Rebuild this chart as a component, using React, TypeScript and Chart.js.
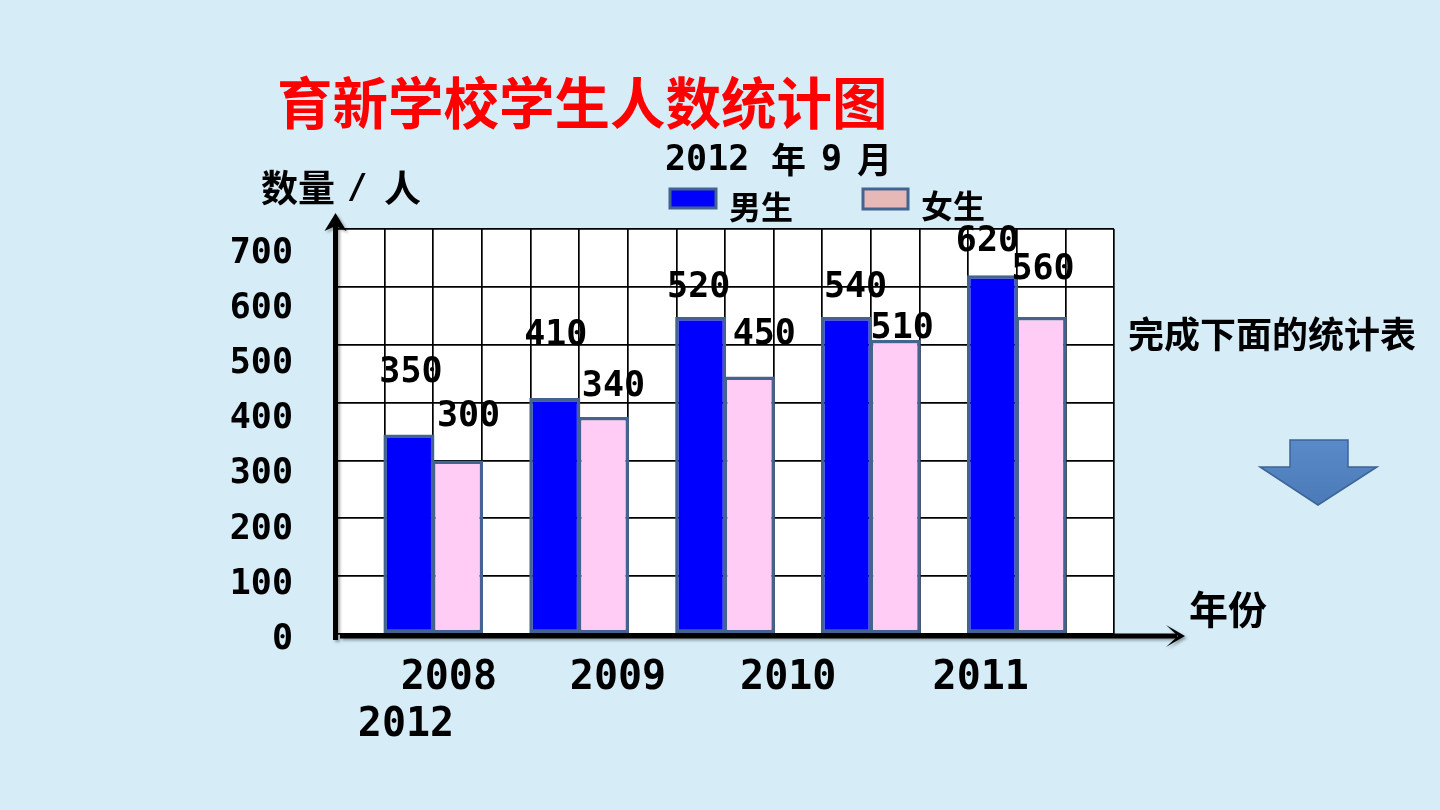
import React, { useEffect, useRef } from "react";
import { Chart, registerables } from "chart.js";

Chart.register(...registerables);

// ---------- data ----------
const years = ["2008", "2009", "2010", "2011", "2012"];
// bar heights as drawn in the picture
const boysDrawn = [345, 408, 548, 548, 620];
const girlsDrawn = [300, 375, 445, 508, 548];
// numbers printed above the bars
const boysLabels = [350, 410, 520, 540, 620];
const girlsLabels = [300, 340, 450, 510, 560];
const yTickValues = [0, 100, 200, 300, 400, 500, 600, 700];
const yearRow1 = years.slice(0, 4);
const yearRow2 = years.slice(4);

// ---------- layout (not data) ----------
const GRID_COLUMNS = 16;
const boyColumn = [1, 4, 7, 10, 13];
const girlColumn = [2, 5, 8, 11, 14];
const yearRow1Pos = [2.32, 5.8, 9.3, 13.26];
const yearRow2Pos = [1.44];
const boysLabelShift = [[2, -61], [1, -62], [-2, -29], [9, -29], [-5, -33]];
const girlsLabelShift = [[11, -44], [10, -30], [15, -42], [7, -11], [2, -47]];

const MONO = "'DejaVu Sans Mono', monospace";
const CJK = "'Noto Sans CJK SC', 'Noto Sans', sans-serif";
const BORDER = "#44648f";

const columnLabels = Array.from({ length: GRID_COLUMNS }, (_, i) => `c${i}`);
const placeInColumns = (cols: number[], vals: number[]) =>
  columnLabels.map((_, i) => {
    const k = cols.indexOf(i);
    return k >= 0 ? vals[k] : null;
  });

const zeroPad = (s: any) => {
  s.paddingTop = 0;
  s.paddingBottom = 0;
  s.paddingLeft = 0;
  s.paddingRight = 0;
};

const decor = {
  id: "decor",
  beforeDraw(chart: any) {
    const { ctx, chartArea: a } = chart;
    ctx.save();
    ctx.fillStyle = "#ffffff";
    ctx.fillRect(a.left, a.top, a.right - a.left, a.bottom - a.top);
    ctx.restore();
  },
  afterDraw(chart: any) {
    const { ctx, chartArea: a } = chart;
    ctx.save();

    // ---- axes with arrows ----
    ctx.shadowColor = "rgba(0,0,0,0.35)";
    ctx.shadowOffsetX = 2;
    ctx.shadowOffsetY = 2;
    ctx.shadowBlur = 3;
    ctx.strokeStyle = "#000";
    ctx.fillStyle = "#000";
    ctx.lineWidth = 5;
    const ax = a.left - 0.5;
    ctx.beginPath();
    ctx.moveTo(ax, a.bottom + 6);
    ctx.lineTo(ax, a.top - 4);
    ctx.stroke();
    ctx.beginPath();
    ctx.moveTo(ax, a.top - 16);
    ctx.lineTo(ax + 11, a.top + 2);
    ctx.lineTo(ax, a.top - 3);
    ctx.lineTo(ax - 11, a.top + 2);
    ctx.closePath();
    ctx.fill();

    const by = a.bottom + 2;
    const xEnd = a.right + 71;
    ctx.beginPath();
    ctx.moveTo(a.left + 4, by);
    ctx.lineTo(xEnd - 8, by);
    ctx.stroke();
    ctx.beginPath();
    ctx.moveTo(xEnd, by);
    ctx.lineTo(xEnd - 19, by - 11);
    ctx.lineTo(xEnd - 7, by);
    ctx.lineTo(xEnd - 19, by + 11);
    ctx.closePath();
    ctx.fill();

    ctx.shadowColor = "transparent";
    ctx.shadowBlur = 0;
    ctx.shadowOffsetX = 0;
    ctx.shadowOffsetY = 0;

    // ---- value labels ----
    ctx.fillStyle = "#000";
    ctx.font = `bold 35px ${MONO}`;
    ctx.textAlign = "center";
    ctx.textBaseline = "middle";
    const mb = chart.getDatasetMeta(0);
    const mg = chart.getDatasetMeta(1);
    boyColumn.forEach((col, k) => {
      const el = mb.data[col];
      if (!el) return;
      ctx.fillText(String(boysLabels[k]), el.x + boysLabelShift[k][0], el.y + boysLabelShift[k][1]);
    });
    girlColumn.forEach((col, k) => {
      const el = mg.data[col];
      if (!el) return;
      ctx.fillText(String(girlsLabels[k]), el.x + girlsLabelShift[k][0], el.y + girlsLabelShift[k][1]);
    });

    // ---- title ----
    ctx.textAlign = "left";
    ctx.fillStyle = "#ff0000";
    ctx.font = `bold 55.5px ${CJK}`;
    ctx.fillText("育新学校学生人数统计图", 277, 103);

    // ---- date ----
    ctx.fillStyle = "#000";
    ctx.font = `bold 35px ${MONO}`;
    ctx.fillText("2012", 665, 161);
    ctx.font = `bold 35px ${CJK}`;
    ctx.fillText("年", 771, 160);
    ctx.font = `bold 35px ${MONO}`;
    ctx.fillText("9", 821, 161);
    ctx.font = `bold 35px ${CJK}`;
    ctx.fillText("月", 857, 160);

    // ---- y title ----
    ctx.font = `bold 37px ${CJK}`;
    ctx.fillText("数量", 261, 188);
    ctx.font = `bold 34px ${MONO}`;
    ctx.fillText("/", 347, 189);
    ctx.font = `bold 37px ${CJK}`;
    ctx.fillText("人", 384, 188);

    // ---- legend ----
    ctx.lineWidth = 3;
    ctx.strokeStyle = BORDER;
    ctx.fillStyle = "#0000ff";
    ctx.fillRect(670, 189, 46, 19);
    ctx.strokeRect(670, 189, 46, 19);
    ctx.fillStyle = "#e6b9b8";
    ctx.fillRect(863, 189, 45, 20);
    ctx.strokeRect(863, 189, 45, 20);
    ctx.fillStyle = "#000";
    ctx.font = `bold 32px ${CJK}`;
    ctx.fillText("男生", 729, 207);
    ctx.fillText("女生", 921, 206);

    // ---- side texts ----
    ctx.font = `bold 36px ${CJK}`;
    ctx.fillText("完成下面的统计表", 1128, 334);
    ctx.font = `bold 39px ${CJK}`;
    ctx.fillText("年份", 1189, 609);

    // ---- down arrow shape ----
    ctx.beginPath();
    ctx.moveTo(1290, 440);
    ctx.lineTo(1348, 440);
    ctx.lineTo(1348, 467);
    ctx.lineTo(1377, 467);
    ctx.lineTo(1318, 505);
    ctx.lineTo(1260, 467);
    ctx.lineTo(1290, 467);
    ctx.closePath();
    const grad = ctx.createLinearGradient(0, 440, 0, 505);
    grad.addColorStop(0, "#5a8bc8");
    grad.addColorStop(1, "#4a7bb8");
    ctx.fillStyle = grad;
    ctx.fill();
    ctx.lineWidth = 1.5;
    ctx.strokeStyle = "#3d6494";
    ctx.stroke();

    ctx.restore();
  },
};

const yearAxis = (labels: string[], positions: number[], weight: number, padding: number) => ({
  type: "linear",
  axis: "x",
  position: "bottom",
  weight,
  min: 0,
  max: GRID_COLUMNS,
  offset: false,
  bounds: "data",
  grid: { display: false, drawTicks: false, tickLength: 0, offset: false },
  border: { display: false },
  ticks: {
    autoSkip: false,
    maxRotation: 0,
    minRotation: 0,
    color: "#000",
    padding,
    font: { family: MONO, size: 40, weight: "bold" },
    callback: (_v: any, i: number) => labels[i],
  },
  afterBuildTicks: (s: any) => {
    s.ticks = positions.map((v) => ({ value: v }));
  },
  afterFit: (s: any) => {
    s.height = 60;
    zeroPad(s);
  },
});

export default function App() {
  const ref = useRef<HTMLCanvasElement | null>(null);

  useEffect(() => {
    if (!ref.current) return;
    const chart = new Chart(ref.current, {
      type: "bar",
      data: {
        labels: columnLabels,
        datasets: [
          {
            label: "男生",
            data: placeInColumns(boyColumn, boysDrawn),
            backgroundColor: "#0000ff",
            borderColor: BORDER,
            borderWidth: 3.5,
            borderSkipped: false,
          },
          {
            label: "女生",
            data: placeInColumns(girlColumn, girlsDrawn),
            backgroundColor: "#ffccf5",
            borderColor: BORDER,
            borderWidth: 3.5,
            borderSkipped: false,
          },
        ],
      },
      options: {
        responsive: false,
        animation: false,
        events: [],
        layout: { padding: { left: 226, right: 326, top: 229, bottom: 56 } },
        plugins: {
          legend: { display: false },
          tooltip: { enabled: false },
          title: { display: false },
        },
        datasets: {
          bar: { grouped: false, barPercentage: 1.05, categoryPercentage: 1 },
        },
        scales: {
          x: {
            type: "category",
            offset: true,
            weight: 0,
            grid: { color: "#000", lineWidth: 1.7, offset: true, drawTicks: false },
            border: { display: false },
            ticks: { display: false },
            afterFit: (s: any) => {
              s.height = 0;
              zeroPad(s);
            },
          },
          y: {
            type: "linear",
            min: 0,
            max: 700,
            weight: 0,
            grid: { color: "#000", lineWidth: 1.7, drawTicks: false },
            border: { display: false },
            ticks: { display: false, stepSize: 100 },
            afterFit: (s: any) => {
              s.width = 0;
              zeroPad(s);
            },
          },
          yl: {
            type: "linear",
            axis: "y",
            position: "left",
            weight: 1,
            min: 10.87,
            max: 744.4,
            bounds: "data",
            grid: { display: false, drawTicks: false, tickLength: 0 },
            border: { display: false },
            ticks: {
              autoSkip: false,
              color: "#000",
              padding: 43,
              font: { family: MONO, size: 35, weight: "bold" },
              callback: (v: any) => String(v),
            },
            afterBuildTicks: (s: any) => {
              s.ticks = yTickValues.map((v) => ({ value: v }));
            },
            afterFit: (s: any) => {
              s.width = 110;
              zeroPad(s);
            },
          },
          xl: yearAxis(yearRow1, yearRow1Pos, 1, 21),
          xl2: yearAxis(yearRow2, yearRow2Pos, 2, 8),
        },
      } as any,
      plugins: [decor],
    });
    return () => chart.destroy();
  }, []);

  return (
    <div
      style={{
        position: "absolute",
        left: 0,
        top: 0,
        width: 1440,
        height: 810,
        background: "#d6edf8",
        overflow: "hidden",
      }}
    >
      <canvas ref={ref} width={1440} height={810} style={{ display: "block" }} />
    </div>
  );
}
